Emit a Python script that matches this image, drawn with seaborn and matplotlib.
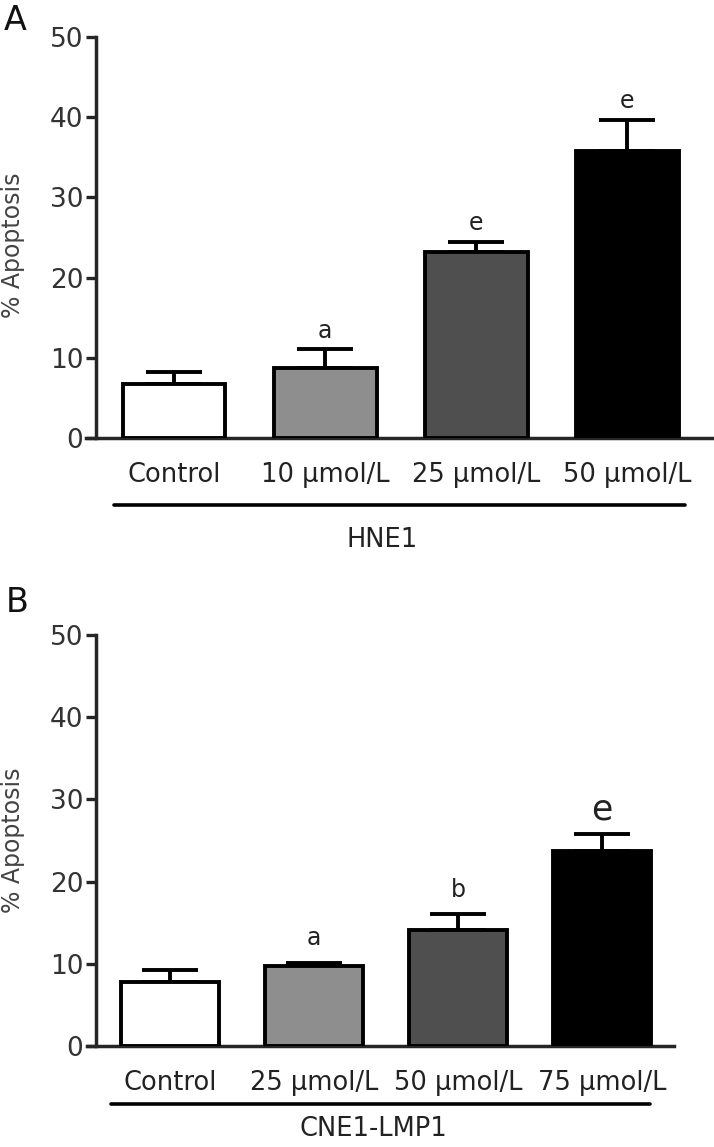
import matplotlib
matplotlib.use('Agg')
import matplotlib.pyplot as plt
import matplotlib.transforms as mtransforms
import seaborn as sns
import pandas as pd

# panel A: HNE1
cats_a = ['Control', '10 μmol/L', '25 μmol/L', '50 μmol/L']
mean_a = [6.7, 8.7, 23.2, 35.8]
err_a = [1.5, 2.4, 1.3, 3.9]
sig_a = ['', 'a', 'e', 'e']

# panel B: CNE1-LMP1
cats_b = ['Control', '25 μmol/L', '50 μmol/L', '75 μmol/L']
mean_b = [7.8, 9.7, 14.1, 23.7]
err_b = [1.5, 0.4, 1.9, 2.1]
sig_b = ['', 'a', 'b', 'e']

bar_colors = ['#ffffff', '#8e8e8e', '#4f4f4f', '#000000']

sns.set_style('ticks')
plt.rcParams['font.family'] = ['DejaVu Sans']

fig = plt.figure(figsize=(7.14, 11.47), dpi=100)
W, H = 714, 1147


def px_axes(left, top, right, bottom):
    return fig.add_axes([left / W, 1 - bottom / H, (right - left) / W, (bottom - top) / H])


def draw_panel(ax, cats, means, errs, sigs, group, letter_sizes, letter_gap,
               xlim, line_x, label_x, line_off, lab_off, ylab_xy):
    df = pd.DataFrame({'cond': cats, 'value': means})
    sns.barplot(data=df, x='cond', y='value', hue='cond', palette=bar_colors,
                order=cats, width=0.68, edgecolor='black', linewidth=2.8,
                legend=False, ax=ax, zorder=3)
    ax.errorbar(range(len(cats)), means, yerr=[[0] * len(errs), errs], fmt='none',
                ecolor='black', elinewidth=2.8, capsize=20, capthick=2.8, zorder=2)
    for i, (m, e, s) in enumerate(zip(means, errs, sigs)):
        if s:
            ax.text(i, m + e + letter_gap, s, ha='center', va='center',
                    fontsize=letter_sizes[i], color='#222222')
    ax.set_ylim(0, 50)
    ax.set_xlim(*xlim)
    ax.set_yticks([0, 10, 20, 30, 40, 50])
    ax.set_xlabel('')
    ax.set_ylabel('% Apoptosis', fontsize=17, color='#444444')
    ax.yaxis.set_label_coords(*ylab_xy)
    ax.tick_params(axis='y', length=7, width=2.4, labelsize=19, labelcolor='#333333', pad=2)
    ax.tick_params(axis='x', length=0, labelsize=18.5, labelcolor='#222222', pad=17)
    for sp in ['top', 'right']:
        ax.spines[sp].set_visible(False)
    for sp in ['left', 'bottom']:
        ax.spines[sp].set_linewidth(2.5)
    ax.spines['bottom'].set_bounds(xlim[0] - 0.065, xlim[1])

    trans = mtransforms.blended_transform_factory(ax.transData, ax.transAxes)
    off = mtransforms.offset_copy(trans, fig=fig, y=-line_off, units='points')
    ax.plot(line_x, [0, 0], color='black', lw=2.6, transform=off, clip_on=False)
    off2 = mtransforms.offset_copy(trans, fig=fig, y=-lab_off, units='points')
    ax.text(label_x, 0, group, ha='center', va='center', fontsize=18.5,
            color='#222222', transform=off2)


ax_a = px_axes(96, 37, 712, 438)
draw_panel(ax_a, cats_a, mean_a, err_a, sig_a, 'HNE1', [17, 17, 17, 17], 2.3,
           (-0.517, 3.56), [-0.40, 3.38], 1.38, 48, 73.5, (-0.115, 0.48))

ax_b = px_axes(96, 635, 674, 1046)
draw_panel(ax_b, cats_b, mean_b, err_b, sig_b, 'CNE1-LMP1', [17, 17, 17, 25], 3.0,
           (-0.514, 3.5), [-0.41, 3.33], 1.41, 42, 60, (-0.123, 0.5))

fig.text(4 / W, 1 - 21 / H, 'A', fontsize=24, va='center', ha='left', color='#111111')
fig.text(6 / W, 1 - 603 / H, 'B', fontsize=24, va='center', ha='left', color='#111111')

fig.savefig('out.png', dpi=100, facecolor='white')
